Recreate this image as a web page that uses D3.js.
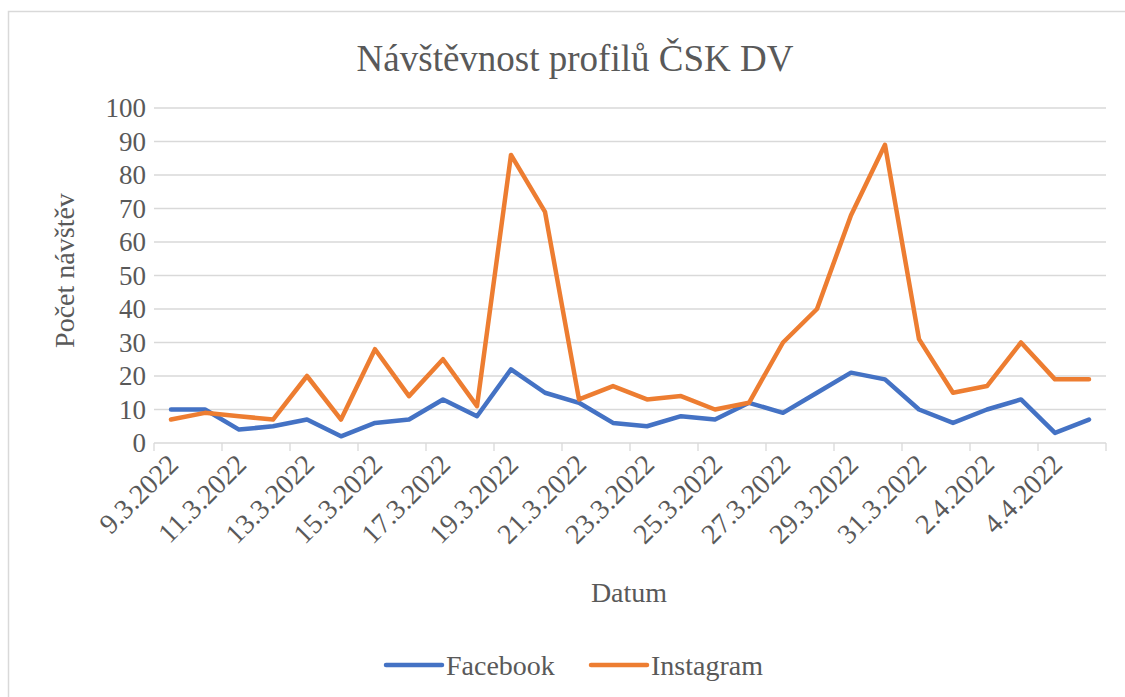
<!DOCTYPE html>
<html>
<head>
<meta charset="utf-8">
<script src="https://cdn.jsdelivr.net/npm/d3@7"></script>
</head>
<body style="margin:0;background:#fff">
<script>
// Data
const dates = [
  "9.3.2022", "10.3.2022", "11.3.2022", "12.3.2022", "13.3.2022", "14.3.2022", "15.3.2022",
  "16.3.2022", "17.3.2022", "18.3.2022", "19.3.2022", "20.3.2022", "21.3.2022", "22.3.2022",
  "23.3.2022", "24.3.2022", "25.3.2022", "26.3.2022", "27.3.2022", "28.3.2022", "29.3.2022",
  "30.3.2022", "31.3.2022", "1.4.2022", "2.4.2022", "3.4.2022", "4.4.2022", "5.4.2022"
];
const facebook = [10, 10, 4, 5, 7, 2, 6, 7, 13, 8, 22, 15, 12, 6, 5, 8, 7, 12, 9, 15, 21, 19, 10, 6, 10, 13, 3, 7];
const instagram = [7, 9, 8, 7, 20, 7, 28, 14, 25, 11, 86, 69, 13, 17, 13, 14, 10, 12, 30, 40, 68, 89, 31, 15, 17, 30, 19, 19];
const yTicks = [0, 10, 20, 30, 40, 50, 60, 70, 80, 90, 100];

const series = [
  { name: "Facebook", values: facebook, color: "#4472C4" },
  { name: "Instagram", values: instagram, color: "#ED7D31" }
];

const W = 1125, H = 697;
const FONT = "Liberation Serif";
const textColor = "#595959";
const gridColor = "#d9d9d9";
const plot = { left: 154, right: 1106, top: 108, bottom: 443 };

const svg = d3.select("body").append("svg")
  .attr("width", W)
  .attr("height", H);

// chart frame (runs off the right and bottom edge like the reference)
svg.append("rect")
  .attr("x", 8.5).attr("y", 11.5)
  .attr("width", 1140).attr("height", 700)
  .attr("fill", "#fff")
  .attr("stroke", gridColor)
  .attr("stroke-width", 1.5);

const x = d3.scaleBand()
  .domain(dates)
  .range([plot.left, plot.right]);

const y = d3.scaleLinear()
  .domain([0, 100])
  .range([plot.bottom, plot.top]);

const cx = d => x(d) + x.bandwidth() / 2;

// helper so every label gets the same serif font
const label = (sel, size) => sel
  .attr("font-family", FONT)
  .style("font-family", FONT, "important")
  .style("font-size", size + "px", "important")
  .attr("fill", textColor);

// Title
svg.append("text")
  .attr("x", 575)
  .attr("y", 71)
  .attr("text-anchor", "middle")
  .call(label, 37)
  .text("Návštěvnost profilů ČSK DV");

// Horizontal gridlines
svg.append("g")
  .selectAll("line")
  .data(yTicks.filter(t => t > 0))
  .join("line")
  .attr("x1", plot.left).attr("x2", plot.right)
  .attr("y1", d => y(d)).attr("y2", d => y(d))
  .attr("stroke", gridColor)
  .attr("stroke-width", 1.3);

// Y axis labels
svg.append("g")
  .selectAll("text")
  .data(yTicks)
  .join("text")
  .attr("x", 146)
  .attr("y", d => y(d))
  .attr("dy", "0.35em")
  .attr("text-anchor", "end")
  .call(label, 27)
  .text(d => d);

// X axis line and tick marks (every second category boundary)
const xAxis = svg.append("g");
xAxis.append("line")
  .attr("x1", plot.left).attr("x2", plot.right)
  .attr("y1", plot.bottom).attr("y2", plot.bottom)
  .attr("stroke", gridColor)
  .attr("stroke-width", 1.3);

const boundaries = dates.filter((d, i) => i % 2 === 0).map(d => x(d)).concat([plot.right]);
xAxis.selectAll(".tick")
  .data(boundaries)
  .join("line")
  .attr("class", "tick")
  .attr("x1", d => d).attr("x2", d => d)
  .attr("y1", plot.bottom).attr("y2", plot.bottom + 8)
  .attr("stroke", gridColor)
  .attr("stroke-width", 1.3);

// X labels, rotated
xAxis.selectAll(".xlabel")
  .data(dates.filter((d, i) => i % 2 === 0))
  .join("text")
  .attr("class", "xlabel")
  .attr("text-anchor", "end")
  .attr("transform", d => `translate(${cx(d) + 9},${plot.bottom + 23}) rotate(-45)`)
  .call(label, 28)
  .text(d => d);

// Axis titles
svg.append("text")
  .attr("transform", `translate(74,${(plot.top + plot.bottom) / 2 - 5}) rotate(-90)`)
  .attr("text-anchor", "middle")
  .call(label, 28)
  .text("Počet návštěv");

svg.append("text")
  .attr("x", 629)
  .attr("y", 602)
  .attr("text-anchor", "middle")
  .call(label, 28)
  .text("Datum");

// Lines
const line = d3.line()
  .x((d, i) => cx(dates[i]))
  .y(d => y(d));

svg.append("g")
  .selectAll("path")
  .data(series)
  .join("path")
  .attr("fill", "none")
  .attr("stroke", d => d.color)
  .attr("stroke-width", 4.5)
  .attr("stroke-linejoin", "round")
  .attr("stroke-linecap", "round")
  .attr("d", d => line(d.values));

// Legend
const legend = svg.append("g")
  .attr("transform", "translate(386,665)");

const legendItems = legend.selectAll("g")
  .data(series)
  .join("g")
  .attr("transform", (d, i) => `translate(${i * 205},0)`);

legendItems.append("line")
  .attr("x1", 0).attr("x2", 56)
  .attr("y1", 0).attr("y2", 0)
  .attr("stroke", d => d.color)
  .attr("stroke-width", 4.5)
  .attr("stroke-linecap", "round");

legendItems.append("text")
  .attr("x", 60)
  .attr("y", 0)
  .attr("dy", "0.35em")
  .call(label, 28)
  .text(d => d.name);
</script>
</body>
</html>
